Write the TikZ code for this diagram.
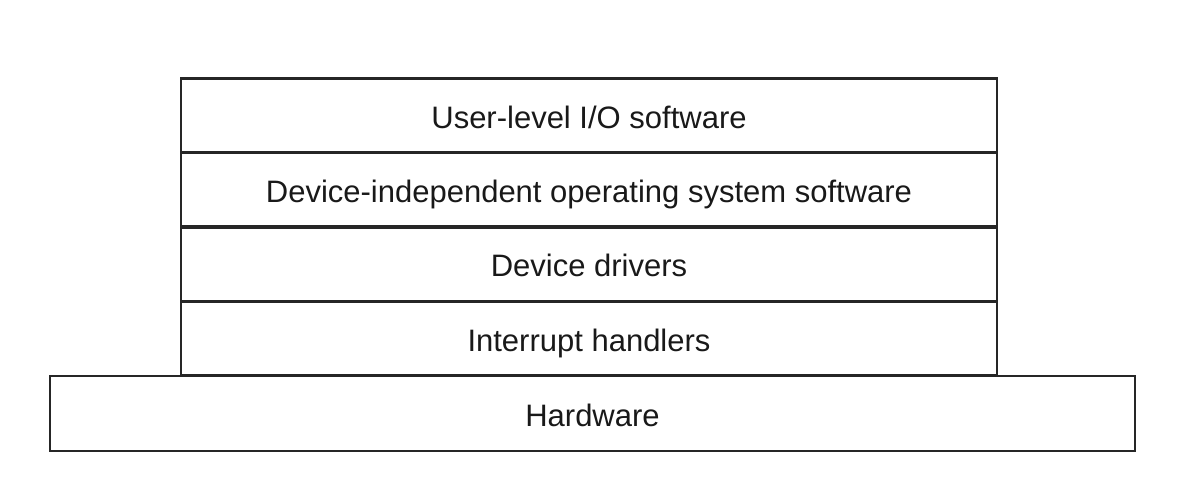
\documentclass[tikz,border=0pt]{standalone}
\usepackage{fontspec}
\setmainfont{Liberation Sans}
\begin{document}
\begin{tikzpicture}[x=1pt,y=-1pt,
  layer/.style={draw=black!85, line width=2.8pt, rectangle, minimum height=74.5pt,
    inner sep=0pt, font=\fontsize{31}{36}\selectfont, text=black!90,
    text height=25pt, text depth=0pt},
  stack/.style={layer, minimum width=816pt},
  base/.style={layer, minimum width=1085pt, minimum height=75pt}]
  \useasboundingbox (0,0) rectangle (1183,491);
  \node[base]  (hw)   at (592.5,413.5) {Hardware};
  \node[stack] (irq)  at (589,338.5) {Interrupt handlers};
  \node[stack] (drv)  at (589,264)   {Device drivers};
  \node[stack] (dios) at (589,190)   {Device-independent operating system software};
  \node[stack] (user) at (589,115.5) {User-level I/O software};
\end{tikzpicture}
\end{document}
